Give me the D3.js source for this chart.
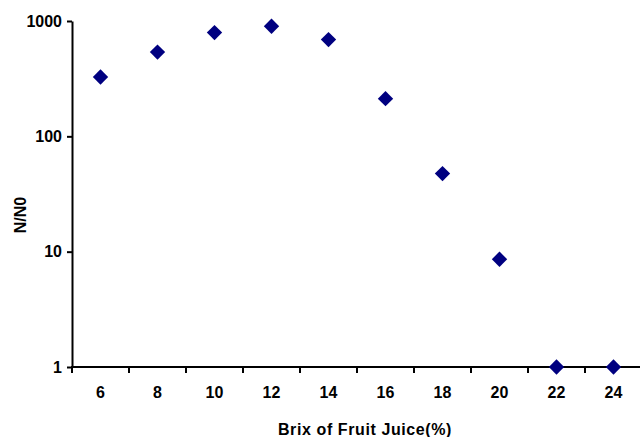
<!DOCTYPE html>
<html>
<head>
<meta charset="utf-8">
<script src="https://cdn.jsdelivr.net/npm/d3@7"></script>
<style>
  body { margin: 0; background: #fff; }
  text { font-family: "Liberation Sans", Arial, sans-serif; font-weight: bold; }
</style>
</head>
<body>
<div id="chart"></div>
<script>
// Data
const brix = [6, 8, 10, 12, 14, 16, 18, 20, 22, 24];
const ratio = [327, 538, 793, 900, 690, 212, 47.5, 8.6, 1, 1];
const xTickLabels = [6, 8, 10, 12, 14, 16, 18, 20, 22, 24];
const yTickValues = [1, 10, 100, 1000];

const width = 640, height = 437;
const margin = {top: 21, right: 0, bottom: 70, left: 72};

const svg = d3.select("#chart")
    .append("svg")
    .attr("width", width)
    .attr("height", height);

// x is linear, ticks sit between categories (odd values), labels on even values
const xScale = d3.scaleLinear().domain([5, 25]).range([margin.left, 642]);
const yScale = d3.scaleLog().domain([1, 1000]).range([367, margin.top]);

// y axis
const yAxis = svg.append("g")
    .attr("transform", "translate(" + margin.left + ",0)")
    .call(d3.axisLeft(yScale).tickValues(yTickValues).tickFormat(d3.format("d")).tickSize(5).tickSizeOuter(0));

yAxis.select(".domain").attr("stroke", "#000").attr("stroke-width", 2);
yAxis.selectAll(".tick line").attr("stroke", "#000").attr("stroke-width", 2);
yAxis.selectAll(".tick text")
    .attr("x", -10)
    .attr("font-size", 16)
    .attr("font-family", "Liberation Sans, Arial, sans-serif")
    .attr("font-weight", "bold")
    .attr("fill", "#000");

// x axis line with ticks at odd values
const xg = svg.append("g").attr("transform", "translate(0,367)");
xg.append("line")
    .attr("x1", margin.left - 1)
    .attr("x2", width)
    .attr("stroke", "#000")
    .attr("stroke-width", 2);

xg.selectAll(".xtick")
    .data(d3.range(5, 25, 2))
    .enter()
    .append("line")
    .attr("class", "xtick")
    .attr("x1", d => xScale(d))
    .attr("x2", d => xScale(d))
    .attr("y1", 0)
    .attr("y2", 6)
    .attr("stroke", "#000")
    .attr("stroke-width", 2);

xg.selectAll(".xlabel")
    .data(xTickLabels)
    .enter()
    .append("text")
    .attr("class", "xlabel")
    .attr("x", d => xScale(d))
    .attr("y", 31)
    .attr("text-anchor", "middle")
    .attr("font-size", 16)
    .text(d => d);

// Axis titles
svg.append("text")
    .attr("x", 365)
    .attr("y", 435)
    .attr("text-anchor", "middle")
    .attr("font-size", 16)
    .attr("letter-spacing", 0.6)
    .text("Brix of Fruit Juice(%)");

svg.append("text")
    .attr("transform", "rotate(-90)")
    .attr("x", -215)
    .attr("y", 26)
    .attr("text-anchor", "middle")
    .attr("font-size", 16)
    .text("N/N0");

// Diamond markers
const diamond = d3.symbol().type(d3.symbolDiamond2).size(150);
const points = brix.map((b, i) => ({x: b, y: ratio[i]}));

svg.selectAll(".point")
    .data(points)
    .enter()
    .append("path")
    .attr("class", "point")
    .attr("d", diamond)
    .attr("transform", d => "translate(" + xScale(d.x) + "," + yScale(d.y) + ")")
    .attr("fill", "#000080");
</script>
</body>
</html>
